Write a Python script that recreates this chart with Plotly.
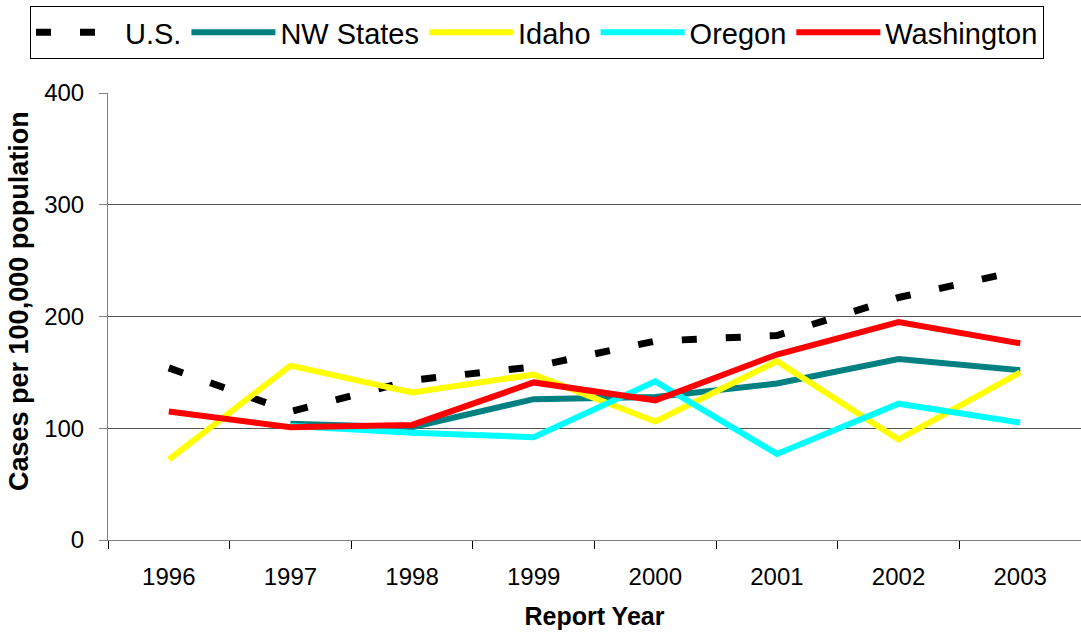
import plotly.graph_objects as go

years = ["1996", "1997", "1998", "1999", "2000", "2001", "2002", "2003"]
us = [154, 115, 143, 155, 178, 183, 217, 241]
nw_states = [None, 104, 101, 126, 128, 140, 162, 152]
idaho = [72, 156, 132, 148, 106, 160, 90, 150]
oregon = [None, 102, 96, 92, 142, 77, 122, 105]
washington = [115, 101, 103, 141, 125, 166, 195, 176]

series = [
    ("U.S.", us, "#000000", "15px,29px", 7),
    ("NW States", nw_states, "#008080", "solid", 6),
    ("Idaho", idaho, "#FFFF00", "solid", 6),
    ("Oregon", oregon, "#00FFFF", "solid", 6),
    ("Washington", washington, "#FF0000", "solid", 6),
]

fig = go.Figure()
for name, vals, color, dash, w in series:
    fig.add_trace(go.Scatter(
        x=years, y=vals, name=name, mode="lines",
        line=dict(color=color, width=w, dash=dash),
        connectgaps=False,
    ))

W, H = 1081, 634
L, T, B = 108, 93, 634 - 540
plot_h = H - T - B
plot_w = W - L

def px_to_paper_y(py):
    return (540 - py) / plot_h

def px_to_paper_x(px):
    return (px - 108) / plot_w

font_family = "Liberation Sans, Arial, sans-serif"
fig.update_layout(
    width=W, height=H,
    margin=dict(l=L, r=0, t=T, b=B, autoexpand=False),
    paper_bgcolor="white", plot_bgcolor="white",
    font=dict(family=font_family, color="black", size=24),
    showlegend=True,
    legend=dict(
        orientation="h",
        x=px_to_paper_x(30), xanchor="left",
        y=px_to_paper_y(6), yanchor="top",
        bordercolor="black", borderwidth=1,
        font=dict(size=29, family=font_family, color="black"),
        itemwidth=84,
        tracegroupgap=0,
    ),
    xaxis=dict(
        type="category",
        range=[-0.5, 7.5],
        tickson="boundaries",
        ticks="outside", ticklen=8, tickcolor="#000000",
        showline=True, linecolor="#808080", linewidth=1,
        showgrid=False,
        tickfont=dict(size=24),
        ticklabelstandoff=15,
        automargin=False,
        title=dict(text="<b>Report Year</b>", font=dict(size=25), standoff=18),
    ),
    yaxis=dict(
        range=[0, 400],
        tickvals=[0, 100, 200, 300, 400],
        ticks="outside", ticklen=8, tickcolor="#808080",
        showline=True, linecolor="#808080", linewidth=1,
        showgrid=True, gridcolor="#555555", gridwidth=1,
        zeroline=False,
        tickfont=dict(size=24),
        ticklabelstandoff=10,
        automargin=False,
    ),
    annotations=[dict(
        text="<b>Cases per 100,000 population</b>",
        xref="paper", yref="paper",
        x=px_to_paper_x(19), y=px_to_paper_y(301),
        xanchor="center", yanchor="middle",
        textangle=-90, showarrow=False,
        font=dict(size=27, family=font_family, color="black"),
    )],
)

# remove the default page body margin so the figure fills the window exactly
fig.write_html(
    "out.html",
    config={"displayModeBar": False},
    post_script="document.body.style.margin='0';",
)
